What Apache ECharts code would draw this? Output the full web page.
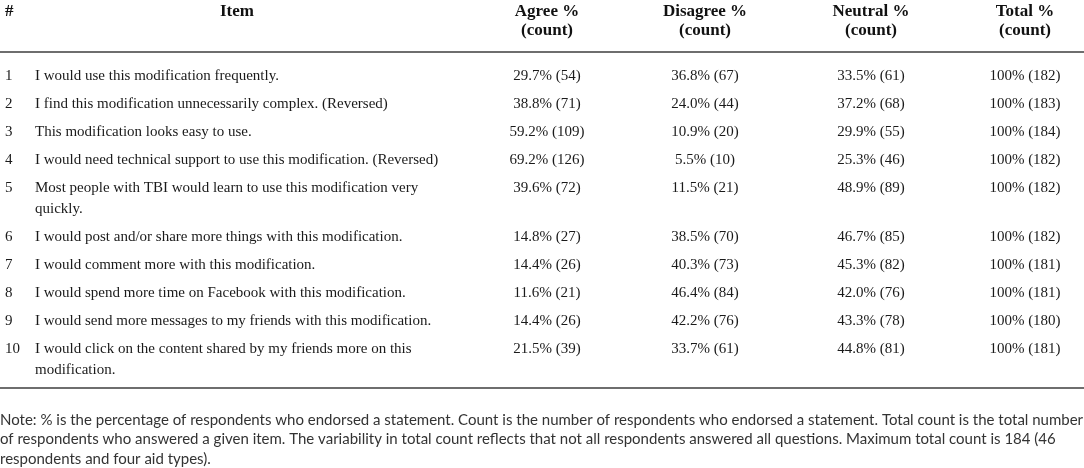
<!DOCTYPE html>
<html>
<head>
<meta charset="utf-8">
<script src="https://cdn.jsdelivr.net/npm/echarts@6/dist/echarts.min.js"></script>
<style>
    html, body { margin: 0; padding: 0; background: #fff; }
    #chart { width: 1084px; height: 468px; }
</style>
</head>
<body>
<div id="chart"></div>
<script>
// table content
const headers = [['#'], ['Item'], ['Agree %', '(count)'], ['Disagree %', '(count)'], ['Neutral %', '(count)'], ['Total %', '(count)']]
const itemNumbers = ['1', '2', '3', '4', '5', '6', '7', '8', '9', '10']
const items = [
    ['I would use this modification frequently.'],
    ['I find this modification unnecessarily complex. (Reversed)'],
    ['This modification looks easy to use.'],
    ['I would need technical support to use this modification. (Reversed)'],
    ['Most people with TBI would learn to use this modification very', 'quickly.'],
    ['I would post and/or share more things with this modification.'],
    ['I would comment more with this modification.'],
    ['I would spend more time on Facebook with this modification.'],
    ['I would send more messages to my friends with this modification.'],
    ['I would click on the content shared by my friends more on this', 'modification.']
]
const agreePct = [29.7, 38.8, 59.2, 69.2, 39.6, 14.8, 14.4, 11.6, 14.4, 21.5]
const agreeCount = [54, 71, 109, 126, 72, 27, 26, 21, 26, 39]
const disagreePct = [36.8, 24.0, 10.9, 5.5, 11.5, 38.5, 40.3, 46.4, 42.2, 33.7]
const disagreeCount = [67, 44, 20, 10, 21, 70, 73, 84, 76, 61]
const neutralPct = [33.5, 37.2, 29.9, 25.3, 48.9, 46.7, 45.3, 42.0, 43.3, 44.8]
const neutralCount = [61, 68, 55, 46, 89, 85, 82, 76, 78, 81]
const totalPct = [100, 100, 100, 100, 100, 100, 100, 100, 100, 100]
const totalCount = [182, 183, 184, 182, 182, 182, 181, 181, 180, 181]
const noteLines = [
    'Note: % is the percentage of respondents who endorsed a statement. Count is the number of respondents who endorsed a statement. Total count is the total number',
    'of respondents who answered a given item. The variability in total count reflects that not all respondents answered all questions. Maximum total count is 184 (46',
    'respondents and four aid types).'
]

// layout
const SERIF = '"Liberation Serif", "DejaVu Serif", serif'
const SANS = 'Lato, "Open Sans", sans-serif'
const colX = [5, 35, 547, 705, 871, 1025]
const headerX = [5, 237, 547, 705, 871, 1025]
const headerY = [12, 31]
const ruleTop = 52
const firstRowY = 76
const rowStep = 28
const lineStep = 21
const ruleBottom = 388
const noteY = 420
const noteStep = 19.5

function cellText(pct, count, i) {
    let p = pct[i] === 100 ? '100' : pct[i].toFixed(1)
    return p + '% (' + count[i] + ')'
}

function text(x, y, str, opts) {
    return {
        type: 'text',
        silent: true,
        style: Object.assign({
            x: x,
            y: y,
            text: str,
            textAlign: 'center',
            textVerticalAlign: 'middle',
            fill: '#1a1a1a',
            font: '15px ' + SERIF
        }, opts)
    }
}

function buildGraphics() {
    let els = []

    headers.forEach((lines, c) => {
        lines.forEach((line, k) => {
            els.push(text(headerX[c], headerY[k], line, {
                textAlign: c === 0 ? 'left' : 'center',
                font: 'bold 17px ' + SERIF,
                fill: '#111'
            }))
        })
    })

    els.push({
        type: 'line', silent: true,
        shape: { x1: 0, y1: ruleTop, x2: 1084, y2: ruleTop },
        style: { stroke: '#6e6e6e', lineWidth: 2 }
    })

    let y = firstRowY
    items.forEach((lines, i) => {
        els.push(text(colX[0], y, itemNumbers[i], { textAlign: 'left' }))
        lines.forEach((line, k) => {
            els.push(text(colX[1], y + k * lineStep, line, { textAlign: 'left' }))
        })
        els.push(text(colX[2], y, cellText(agreePct, agreeCount, i)))
        els.push(text(colX[3], y, cellText(disagreePct, disagreeCount, i)))
        els.push(text(colX[4], y, cellText(neutralPct, neutralCount, i)))
        els.push(text(colX[5], y, cellText(totalPct, totalCount, i)))
        y += rowStep + (lines.length - 1) * lineStep
    })

    els.push({
        type: 'line', silent: true,
        shape: { x1: 0, y1: ruleBottom, x2: 1084, y2: ruleBottom },
        style: { stroke: '#6e6e6e', lineWidth: 2 }
    })

    noteLines.forEach((line, k) => {
        els.push(text(0, noteY + k * noteStep, line, {
            textAlign: 'left',
            font: '15px ' + SANS,
            fill: '#333'
        }))
    })

    return els
}

let chart = echarts.init(document.getElementById('chart'))
chart.setOption({
    backgroundColor: '#fff',
    animation: false,
    graphic: buildGraphics()
})
</script>
</body>
</html>
